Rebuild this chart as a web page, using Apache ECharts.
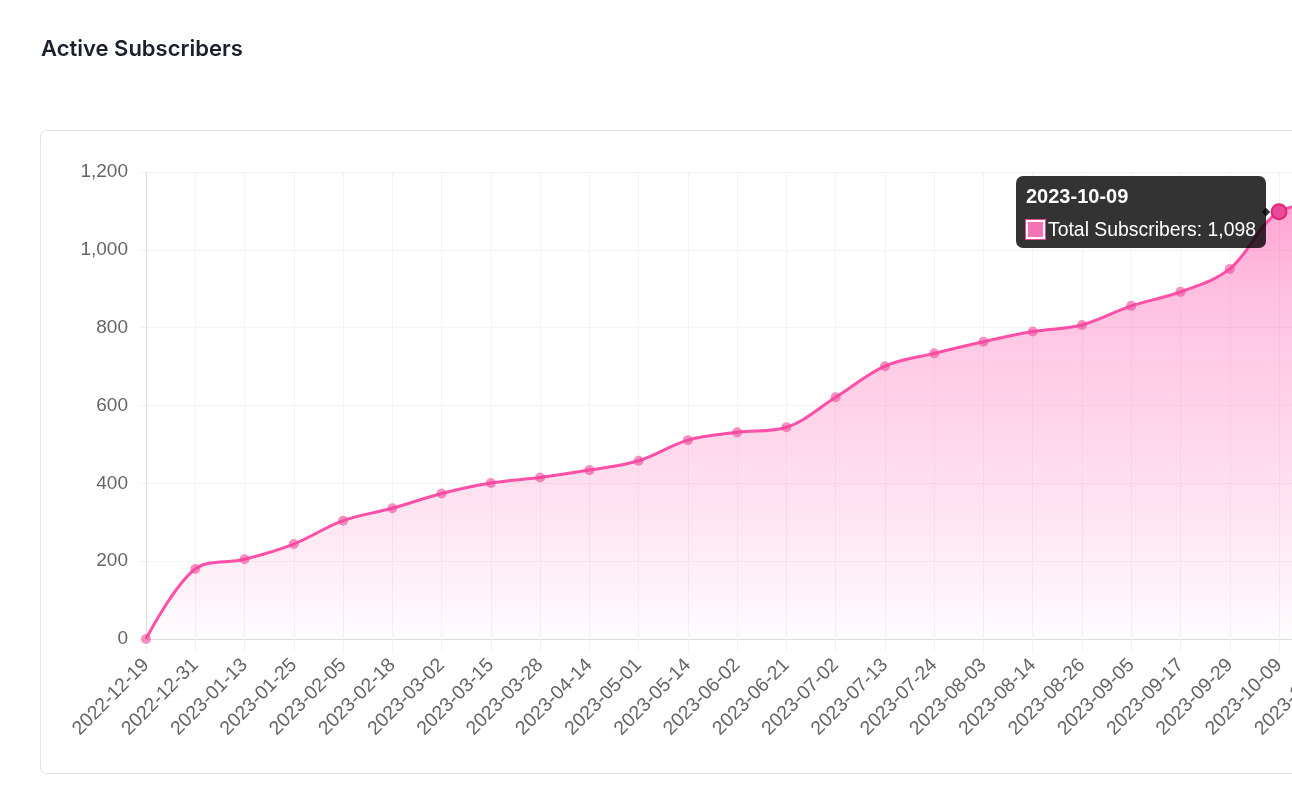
<!DOCTYPE html>
<html>
<head>
<meta charset="utf-8">
<script src="https://cdn.jsdelivr.net/npm/echarts@6/dist/echarts.min.js"></script>
<style>
html,body{margin:0;padding:0;background:#fff;overflow:hidden;width:1292px;height:788px;}
#chart{width:1420px;height:788px;}
</style>
</head>
<body>
<div id="chart"></div>
<script>
const chartTitle = 'Active Subscribers';
const seriesName = 'Total Subscribers';
const dates = [
  '2022-12-19','2022-12-31','2023-01-13','2023-01-25','2023-02-05','2023-02-18',
  '2023-03-02','2023-03-15','2023-03-28','2023-04-14','2023-05-01','2023-05-14',
  '2023-06-02','2023-06-21','2023-07-02','2023-07-13','2023-07-24','2023-08-03',
  '2023-08-14','2023-08-26','2023-09-05','2023-09-17','2023-09-29','2023-10-09',
  '2023-10-20'
];
const subscribers = [
  0, 180, 205, 244, 304, 336,
  374, 401, 415, 434, 458, 511,
  531, 544, 621, 701, 734, 764,
  790, 807, 856, 892, 951, 1098,
  1120
];
const yMin = 0, yMax = 1200, yInterval = 200;
const hoveredIndex = 23;

const PINK = '#ec4899';
const FONT = "'Liberation Sans', Arial, Helvetica, sans-serif";

const chart = echarts.init(document.getElementById('chart'), null, {renderer: 'canvas'});
const option = {
  animation: false,
  backgroundColor: '#ffffff',
  title: {
    text: chartTitle,
    left: 36, top: 33,
    textStyle: {fontSize: 22, fontWeight: 600, color: '#1a202c', fontFamily: "Inter, 'Liberation Sans', sans-serif"}
  },
  graphic: [{
    type: 'rect', z: -10, silent: true,
    shape: {x: 40.5, y: 130.5, width: 1500, height: 643, r: 6},
    style: {fill: '#fff', stroke: '#e3e5e8', lineWidth: 1}
  }],
  grid: {left: 146, top: 172, width: 1182.3, height: 467, containLabel: false},
  tooltip: {
    trigger: 'item',
    position: 'left',
    alwaysShowContent: true,
    transitionDuration: 0,
    backgroundColor: 'rgba(0,0,0,0.8)',
    borderWidth: 0,
    padding: [9, 10, 8, 10],
    extraCssText: 'border-radius:7px;box-shadow:none;',
    textStyle: {color: '#fff', fontSize: 19.4, fontFamily: FONT},
    formatter: function (p) {
      return '<div style="font-weight:bold;font-size:20px;line-height:22px;margin-bottom:11px;">' + p.name + '</div>' +
        '<div style="line-height:22px;white-space:nowrap;"><span style="display:inline-block;box-sizing:border-box;width:19px;height:19px;background:#f472b6;border:2px solid #fff;outline:1px solid #ec4899;vertical-align:-3px;margin-right:3px;"></span>' +
        p.seriesName + ': ' + Number(p.value).toLocaleString('en-US') + '</div>';
    }
  },
  xAxis: {
    type: 'category',
    data: dates,
    boundaryGap: false,
    axisLine: {show: true, lineStyle: {color: '#dedede', width: 1}},
    axisTick: {show: true, length: 14, lineStyle: {color: '#f2f2f2'}},
    splitLine: {show: true, lineStyle: {color: '#f4f4f4'}},
    axisLabel: {rotate: 45, interval: 0, color: '#666', fontSize: 19.4, fontFamily: FONT, margin: 23}
  },
  yAxis: {
    type: 'value',
    min: yMin, max: yMax, interval: yInterval,
    axisLine: {show: true, lineStyle: {color: '#dedede', width: 1}},
    axisTick: {show: true, length: 6, lineStyle: {color: '#f2f2f2'}},
    splitLine: {show: true, lineStyle: {color: '#f4f4f4'}},
    axisLabel: {color: '#666', fontSize: 19, fontFamily: FONT, margin: 18,
      formatter: v => v.toLocaleString('en-US')}
  },
  series: [{
    name: seriesName,
    type: 'line',
    data: subscribers,
    smooth: 0.35,
    symbol: 'circle',
    symbolSize: 10,
    showSymbol: true,
    lineStyle: {color: PINK, width: 3},
    itemStyle: {color: 'rgba(236,72,153,0.6)', borderWidth: 0},
    areaStyle: {
      color: new echarts.graphic.LinearGradient(0, 172, 0, 639, [
        {offset: 0, color: 'rgba(236,72,153,0.78)'},
        {offset: 0.08, color: 'rgba(236,72,153,0.72)'},
        {offset: 0.27, color: 'rgba(236,72,153,0.50)'},
        {offset: 0.49, color: 'rgba(236,72,153,0.37)'},
        {offset: 0.70, color: 'rgba(236,72,153,0.24)'},
        {offset: 0.87, color: 'rgba(236,72,153,0.12)'},
        {offset: 1, color: 'rgba(236,72,153,0.02)'}
      ], true)
    },
    emphasis: {
      scale: 1.5,
      focus: 'none',
      lineStyle: {width: 3},
      itemStyle: {color: PINK, borderColor: '#db2777', borderWidth: 2}
    }
  }]
};
chart.setOption(option);
chart.dispatchAction({type: 'highlight', seriesIndex: 0, dataIndex: hoveredIndex});
chart.dispatchAction({type: 'showTip', seriesIndex: 0, dataIndex: hoveredIndex});
</script>
</body>
</html>
